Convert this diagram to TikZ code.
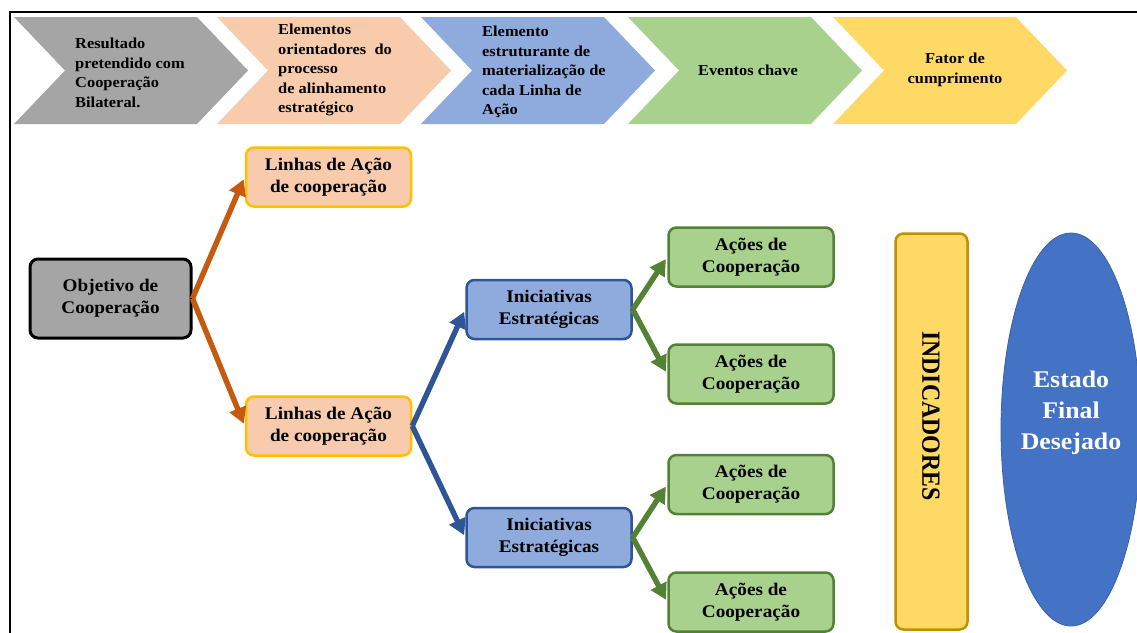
\documentclass[tikz,border=0pt]{standalone}
\usepackage{fontspec}
\setmainfont{Liberation Serif}[FakeStretch=1.08]
\newfontfamily\plainserif{Liberation Serif}
\usetikzlibrary{arrows.meta,shapes.geometric,calc}
\definecolor{cgray}{HTML}{A5A5A5}
\definecolor{cpeach}{HTML}{F8CBAD}
\definecolor{cblue}{HTML}{8FAADC}
\definecolor{cgreen}{HTML}{A9D18E}
\definecolor{cyellow}{HTML}{FFD966}
\definecolor{corange}{HTML}{C55A11}
\definecolor{cdblue}{HTML}{2F5597}
\definecolor{cdgreen}{HTML}{548235}
\definecolor{cgold}{HTML}{FFC000}
\definecolor{cdgold}{HTML}{BF9000}
\definecolor{cefd}{HTML}{4472C4}
\newcommand\chevshape[2]{\fill[#2] (#1,17) -- ++(183,0) -- ++(51,53.5) -- ++(-51,53.5) -- ++(-183,0) -- ++(51,-53.5) -- cycle;}
\tikzset{
  chevtxt/.style={inner sep=0pt, align=left, font=\bfseries\fontsize{15.2}{19.5}\selectfont},
  boxbase/.style={rectangle, rounded corners=8pt, line width=2.5pt, minimum width=165pt, minimum height=59pt, inner sep=2pt, align=center, font=\bfseries\fontsize{17.8}{22}\selectfont},
  objbox/.style={boxbase, fill=cgray, draw=black, line width=3pt, minimum width=161pt, minimum height=79pt},
  labox/.style={boxbase, fill=cpeach, draw=cgold},
  inibox/.style={boxbase, fill=cblue, draw=cdblue},
  acbox/.style={boxbase, fill=cgreen, draw=cdgreen},
  arr/.style={line width=5.4pt, -{Triangle[length=16pt,width=17pt]}, shorten >=2.5pt},
}
\begin{document}
\begin{tikzpicture}[x=1pt,y=-1pt]
\useasboundingbox (0,0) rectangle (1137,632);
\clip (0,0) rectangle (1137,632);
\fill[white] (0,0) rectangle (1137,632);
% frame
\draw[line width=2pt] (9.5,640) -- (9.5,12) -- (1140,12);
% chevrons
\chevshape{14}{cgray}
\chevshape{217}{cpeach}
\chevshape{421}{cblue}
\chevshape{628}{cgreen}
\chevshape{833}{cyellow}
\node[chevtxt, anchor=west] (c1) at (75,73) {Resultado\\pretendido com\\Cooperação\\Bilateral.};
\node[chevtxt, anchor=west] (c2) at (278,70) {Elementos\\orientadores\ \ do\\processo\\de alinhamento\\estratégico};
\node[chevtxt, anchor=west] (c3) at (482,72) {Elemento\\estruturante de\\materialização de\\cada Linha de\\Ação};
\node[chevtxt, align=center] (c4) at (748,70) {Eventos chave};
\node[chevtxt, align=center] (c5) at (955,70) {Fator de\\cumprimento};
% main boxes
\node[objbox] (obj) at (110.5,298.5) {Objetivo de\\Cooperação};
\node[labox] (la1) at (328.5,177) {Linhas de Ação\\de cooperação};
\node[labox] (la2) at (328.5,426) {Linhas de Ação\\de cooperação};
\node[inibox] (ini1) at (549,309.5) {Iniciativas\\Estratégicas};
\node[inibox] (ini2) at (549,537.5) {Iniciativas\\Estratégicas};
\node[acbox] (ac1) at (751,257) {Ações de\\Cooperação};
\node[acbox] (ac2) at (751,374) {Ações de\\Cooperação};
\node[acbox] (ac3) at (751,484.5) {Ações de\\Cooperação};
\node[acbox] (ac4) at (751,602) {Ações de\\Cooperação};
% indicadores
\node[rectangle, rounded corners=8pt, fill=cyellow, draw=cdgold, line width=2.5pt, minimum width=72pt, minimum height=396pt, inner sep=0pt] (ind) at (931.5,431.5) {};
\node[rotate=-90, inner sep=0pt, font=\plainserif\bfseries\fontsize{23.8}{26}\selectfont] (indt) at (931,416) {\scalebox{1}[1.1]{INDICADORES}};
% ellipse
\node[ellipse, fill=cefd, draw=cefd!85!black, line width=0.8pt, minimum width=140pt, minimum height=393pt, inner sep=0pt] (efd) at (1071,429.5) {};
\node[text=white, align=center, inner sep=0pt, font=\bfseries\fontsize{23.9}{31}\selectfont] (efdt) at (1071,413) {Estado\\Final\\Desejado};
% arrows
\draw[arr, corange] (obj.east) -- (la1.west);
\draw[arr, corange] (obj.east) -- (la2.west);
\draw[arr, cdblue] (la2.east) -- (ini1.west);
\draw[arr, cdblue] (la2.east) -- (ini2.west);
\draw[arr, cdgreen] (ini1.east) -- (ac1.west);
\draw[arr, cdgreen] (ini1.east) -- (ac2.west);
\draw[arr, cdgreen] (ini2.east) -- (ac3.west);
\draw[arr, cdgreen] (ini2.east) -- (ac4.west);
\end{tikzpicture}
\end{document}
